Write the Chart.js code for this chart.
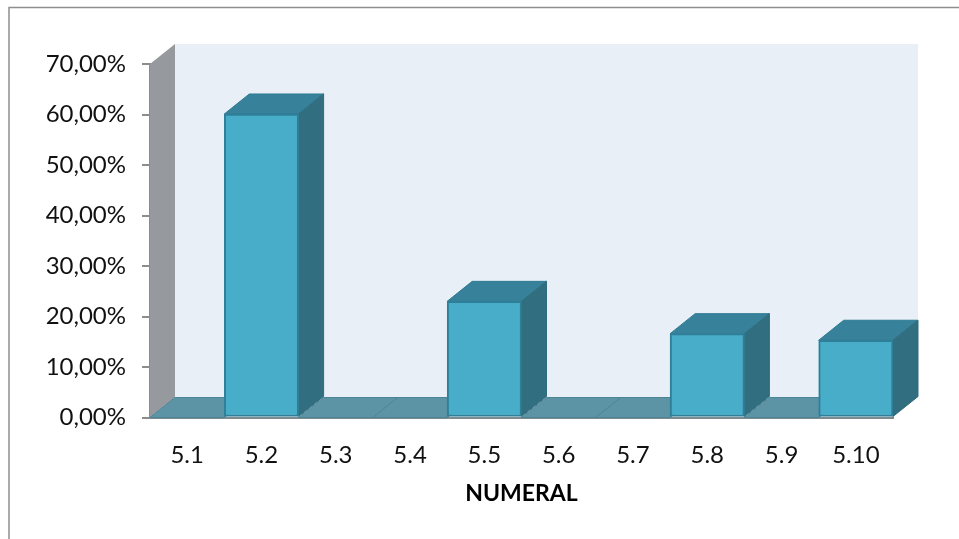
<!DOCTYPE html>
<html>
<head>
<meta charset="utf-8">
<style>
  html, body { margin: 0; padding: 0; background: #fff; }
  canvas { display: block; }
</style>
<script src="https://cdn.jsdelivr.net/npm/chart.js@4"></script>
</head>
<body>
<canvas id="numeral" width="959" height="539"></canvas>
<script>
const categories = ["5.1", "5.2", "5.3", "5.4", "5.5", "5.6", "5.7", "5.8", "5.9", "5.10"];
const percentages = [0, 60.1, 0, 0, 23, 0, 0, 16.6, 0, 15.3];
const axisTitle = "NUMERAL";

// depth of the fake 3D box
const depthX = 25;
const depthY = -20;

function poly(ctx, pts, fill, stroke) {
  ctx.beginPath();
  pts.forEach((p, i) => (i ? ctx.lineTo(p[0], p[1]) : ctx.moveTo(p[0], p[1])));
  ctx.closePath();
  ctx.fillStyle = fill;
  ctx.fill();
  if (stroke) {
    ctx.strokeStyle = stroke;
    ctx.lineWidth = 1;
    ctx.stroke();
  }
}

const frame3d = {
  id: "frame3d",
  beforeDraw(chart) {
    const ctx = chart.ctx;
    ctx.save();
    ctx.strokeStyle = "#8e8e8e";
    ctx.lineWidth = 1.5;
    ctx.beginPath();
    ctx.moveTo(9, chart.height);
    ctx.lineTo(9, 7.5);
    ctx.lineTo(chart.width, 7.5);
    ctx.stroke();
    ctx.restore();
  },
  beforeDatasetsDraw(chart) {
    const ctx = chart.ctx;
    const a = chart.chartArea;
    ctx.save();
    // back wall and left wall
    poly(ctx, [[a.left + depthX, a.top + depthY], [a.right + depthX, a.top + depthY],
      [a.right + depthX, a.bottom + depthY], [a.left + depthX, a.bottom + depthY]], "#e8eff6");
    poly(ctx, [[a.left, a.top], [a.left + depthX, a.top + depthY],
      [a.left + depthX, a.bottom + depthY], [a.left, a.bottom]], "#96999d");
    // top and side of every bar, a zero bar leaves only the floor piece
    chart.getDatasetMeta(0).data.forEach((bar, i) => {
      const l = bar.x - bar.width / 2;
      const r = bar.x + bar.width / 2;
      const zero = percentages[i] === 0;
      poly(ctx, [[l, bar.y], [l + depthX, bar.y + depthY], [r + depthX, bar.y + depthY], [r, bar.y]],
        zero ? "#5c93a5" : "#37819a", zero ? "#4c8497" : "#2f7c94");
      if (!zero) {
        poly(ctx, [[r, bar.y], [r + depthX, bar.y + depthY], [r + depthX, bar.base + depthY], [r, bar.base]],
          "#316f80", "#2f6d7e");
      }
    });
    ctx.restore();
  },
};

new Chart(document.getElementById("numeral"), {
  type: "bar",
  data: {
    labels: categories,
    datasets: [{
      data: percentages,
      backgroundColor: "#48adc9",
      borderColor: "#2f7f98",
      borderWidth: 2,
      borderSkipped: false,
      barPercentage: 1,
      categoryPercentage: 1,
    }],
  },
  plugins: [frame3d],
  options: {
    responsive: false,
    animation: false,
    layout: { padding: { left: 0, top: 64, right: 66, bottom: 0 } },
    plugins: { legend: { display: false }, tooltip: { enabled: false } },
    scales: {
      x: {
        afterFit: (scale) => { scale.height = 121.5; },
        grid: { display: false },
        border: { color: "#7f8a8e", width: 2 },
        ticks: { color: "#111", font: { family: "Lato", size: 24 }, padding: 15, maxRotation: 0 },
        title: {
          display: true,
          text: axisTitle,
          color: "#000",
          font: { family: "Lato", size: 23, weight: "bold" },
          padding: { top: 0, bottom: 32 },
        },
      },
      y: {
        min: 0,
        max: 70,
        afterFit: (scale) => { scale.width = 150; },
        grid: { drawOnChartArea: false, color: "#8c8c8c", tickLength: 8, lineWidth: 2 },
        border: { color: "#8c8c8c", width: 2 },
        ticks: {
          stepSize: 10,
          color: "#111",
          font: { family: "Lato", size: 24 },
          padding: 16,
          callback: (v) => v.toFixed(2).replace(".", ",") + "%",
        },
      },
    },
  },
});
</script>
</body>
</html>
